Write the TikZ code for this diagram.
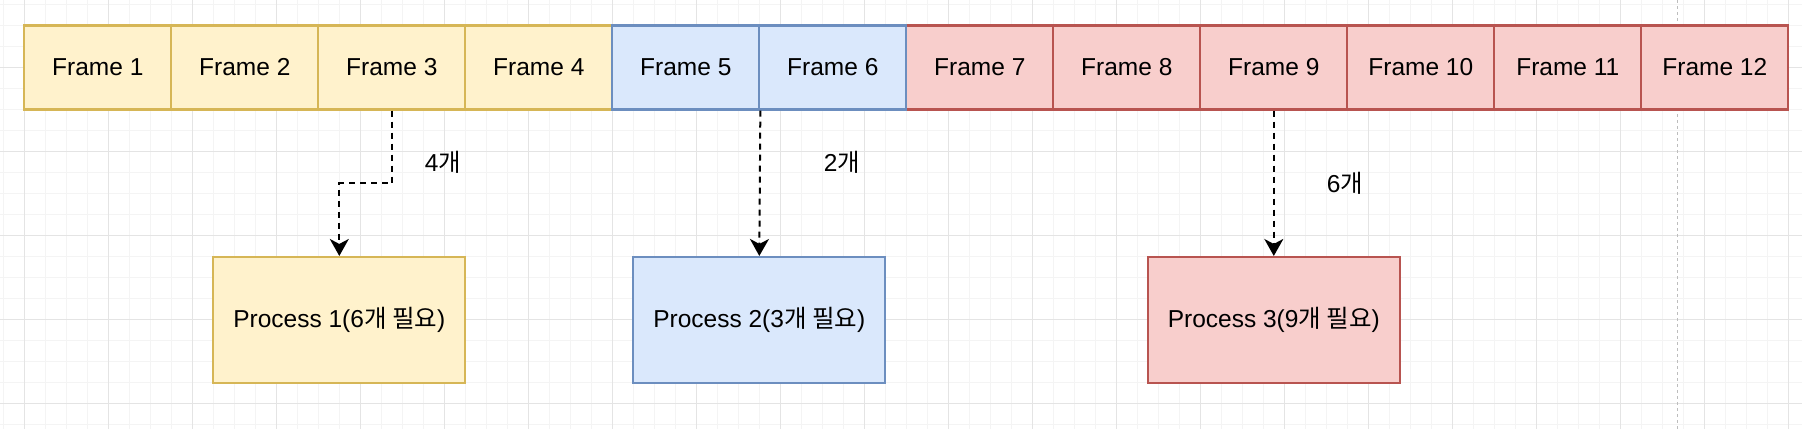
\documentclass[tikz,border=0pt]{standalone}
\usepackage{fontspec}
\setmainfont{Liberation Sans}
\newfontfamily\kr{Noto Sans CJK KR}
\usetikzlibrary{arrows.meta}
\definecolor{yfill}{HTML}{FFF2CC}
\definecolor{ydraw}{HTML}{D6B656}
\definecolor{bfill}{HTML}{DAE8FC}
\definecolor{bdraw}{HTML}{6C8EBF}
\definecolor{rfill}{HTML}{F8CECC}
\definecolor{rdraw}{HTML}{B85450}
\definecolor{gmajor}{HTML}{E4E4E4}
\definecolor{gminor}{HTML}{F4F4F4}
\definecolor{pageline}{HTML}{BDBDBD}
\tikzset{
  txt/.style={font=\fontsize{24.5}{29}\selectfont, text=black},
  framebox/.style={txt, draw, line width=2.1pt, minimum width=147pt, minimum height=84pt, inner sep=0pt},
  procbox/.style={txt, draw, line width=2.1pt, minimum width=252pt, minimum height=126pt, inner sep=0pt},
  yel/.style={fill=yfill, draw=ydraw},
  blu/.style={fill=bfill, draw=bdraw},
  red/.style={fill=rfill, draw=rdraw},
  conn/.style={line width=2pt, dash pattern=on 6pt off 5pt, -{Stealth[length=17pt,width=19pt,inset=5pt]}},
  lbl/.style={txt, inner sep=0pt}
}
\begin{document}
\begin{tikzpicture}[x=1pt,y=-1pt]
\useasboundingbox (0,0) rectangle (1802,429);
\fill[white] (0,0) rectangle (1802,429);
% minor grid
\foreach \i in {0,...,85} {\draw[gminor, line width=1pt] ({3.3+21*\i},0) -- ({3.3+21*\i},429);}
\foreach \j in {0,...,20} {\draw[gminor, line width=1pt] (0,{4+21*\j}) -- (1802,{4+21*\j});}
% major grid
\foreach \i in {0,...,21} {\draw[gmajor, line width=1pt] ({24.3+84*\i},0) -- ({24.3+84*\i},429);}
\foreach \j in {0,...,4} {\draw[gmajor, line width=1pt] (0,{67+84*\j}) -- (1802,{67+84*\j});}
% page boundary
\draw[pageline, line width=1pt, dash pattern=on 3pt off 3pt] (1677.3,0) -- (1677.3,429);

% frames
\node[framebox, yel] (f1) at (97.8,67.5) {Frame 1};
\node[framebox, yel] (f2) at (244.8,67.5) {Frame 2};
\node[framebox, yel] (f3) at (391.8,67.5) {Frame 3};
\node[framebox, yel] (f4) at (538.8,67.5) {Frame 4};
\node[framebox, red] (f7) at (979.8,67.5) {Frame 7};
\node[framebox, red] (f8) at (1126.8,67.5) {Frame 8};
\node[framebox, red] (f9) at (1273.8,67.5) {Frame 9};
\node[framebox, red] (f10) at (1420.8,67.5) {Frame 10};
\node[framebox, red] (f11) at (1567.8,67.5) {Frame 11};
\node[framebox, red] (f12) at (1714.8,67.5) {Frame 12};
\node[framebox, blu] (f5) at (685.8,67.5) {Frame 5};
\node[framebox, blu] (f6) at (832.8,67.5) {Frame 6};

% processes
\node[procbox, yel] (p1) at (339.3,320) {Process 1(6{\kr 개 필요})};
\node[procbox, blu] (p2) at (759.3,320) {Process 2(3{\kr 개 필요})};
\node[procbox, red] (p3) at (1273.8,320) {Process 3(9{\kr 개 필요})};

% connectors
\coordinate (b1) at (391.8,183.3);
\draw[conn] (f3.south) -- (b1) -| (p1.north);
\draw[conn] (f5.south east) -- (p2.north);
\draw[conn] (f9.south) -- (p3.north);

% labels
\node[lbl] (l1) at (443,162) {4{\kr 개}};
\node[lbl] (l2) at (842,162) {2{\kr 개}};
\node[lbl] (l3) at (1345,183) {6{\kr 개}};
\end{tikzpicture}
\end{document}
